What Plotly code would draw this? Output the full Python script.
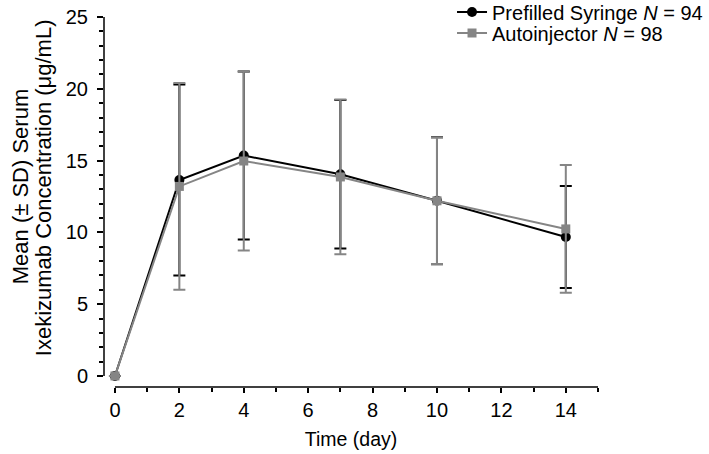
import plotly.graph_objects as go

days = [0, 2, 4, 7, 10, 14]
pfs_mean = [0.0, 13.65, 15.35, 14.05, 12.2, 9.68]
pfs_sd = [0.0, 6.65, 5.85, 5.17, 4.42, 3.55]
ai_mean = [0.0, 13.2, 14.97, 13.86, 12.2, 10.24]
ai_sd = [0.0, 7.2, 6.24, 5.39, 4.4, 4.45]
x_ticks = [0, 2, 4, 6, 8, 10, 12, 14]
y_ticks = [0, 5, 10, 15, 20, 25]

FONT = "Liberation Sans, Arial, Helvetica, sans-serif"

fig = go.Figure()
fig.add_trace(go.Scatter(
    x=days, y=pfs_mean, mode="lines+markers",
    name="Prefilled Syringe <i>N</i> = 94", legend="legend",
    line=dict(color="black", width=2),
    marker=dict(symbol="circle", size=10, color="black"),
    error_y=dict(type="data", array=pfs_sd, color="black", thickness=2, width=6),
))
fig.add_trace(go.Scatter(
    x=days, y=ai_mean, mode="lines+markers",
    name="Autoinjector <i>N</i> = 98", legend="legend2",
    line=dict(color="#858585", width=2),
    marker=dict(symbol="square", size=9, color="#858585"),
    error_y=dict(type="data", array=ai_sd, color="#858585", thickness=2, width=6),
))

# detached axis lines
fig.add_shape(type="line", xref="paper", yref="y", x0=0, x1=0, y0=0, y1=25,
              line=dict(color="black", width=1.5))
fig.add_shape(type="line", xref="x", yref="paper", x0=0, x1=15, y0=0, y1=0,
              line=dict(color="black", width=1.5))

fig.add_annotation(
    text="Mean (± SD) Serum",
    xref="paper", yref="paper", x=-0.170, y=0.54, xanchor="center", yanchor="middle",
    textangle=-90, showarrow=False, font=dict(size=22, color="black", family=FONT),
)
fig.add_annotation(
    text="Ixekizumab Concentration (μg/mL)",
    xref="paper", yref="paper", x=-0.1235, y=0.54, xanchor="center", yanchor="middle",
    textangle=-90, showarrow=False, font=dict(size=22, color="black", family=FONT),
)

leg_common = dict(xref="paper", yref="paper", xanchor="left", yanchor="middle",
                  bgcolor="rgba(0,0,0,0)", font=dict(size=20, family=FONT, color="black"),
                  itemwidth=30)

fig.update_layout(
    width=709, height=454,
    margin=dict(l=104, r=111, t=17, b=67, autoexpand=False),
    paper_bgcolor="white", plot_bgcolor="white",
    font=dict(family=FONT, size=20, color="black"),
    showlegend=True,
    legend=dict(x=0.7045, y=1.0135, **leg_common),
    legend2=dict(x=0.7045, y=0.957, **leg_common),
    xaxis=dict(range=[-0.34, 15], tickvals=x_ticks, showgrid=False, zeroline=False,
               showline=False, ticks="outside", ticklen=5, tickwidth=1.5, tickcolor="black",
               ticklabelstandoff=0,
               minor=dict(tickvals=[1, 3, 5, 7, 9, 11, 13, 15], ticks="outside", ticklen=4,
                          tickwidth=1.5, tickcolor="black"),
               title=dict(text="Time (day)", standoff=12, font=dict(size=19.5))),
    yaxis=dict(range=[-0.77, 25], tickvals=y_ticks, showgrid=False, zeroline=False,
               showline=False, ticks="outside", ticklen=6, tickwidth=1.5, tickcolor="black",
               ticklabelstandoff=5,
               minor=dict(dtick=1, ticks="outside", ticklen=4, tickwidth=1.5, tickcolor="black"),
               ),
)

fig.write_html("out.html", config={"displayModeBar": False},
               post_script="document.body.style.margin='0';")
